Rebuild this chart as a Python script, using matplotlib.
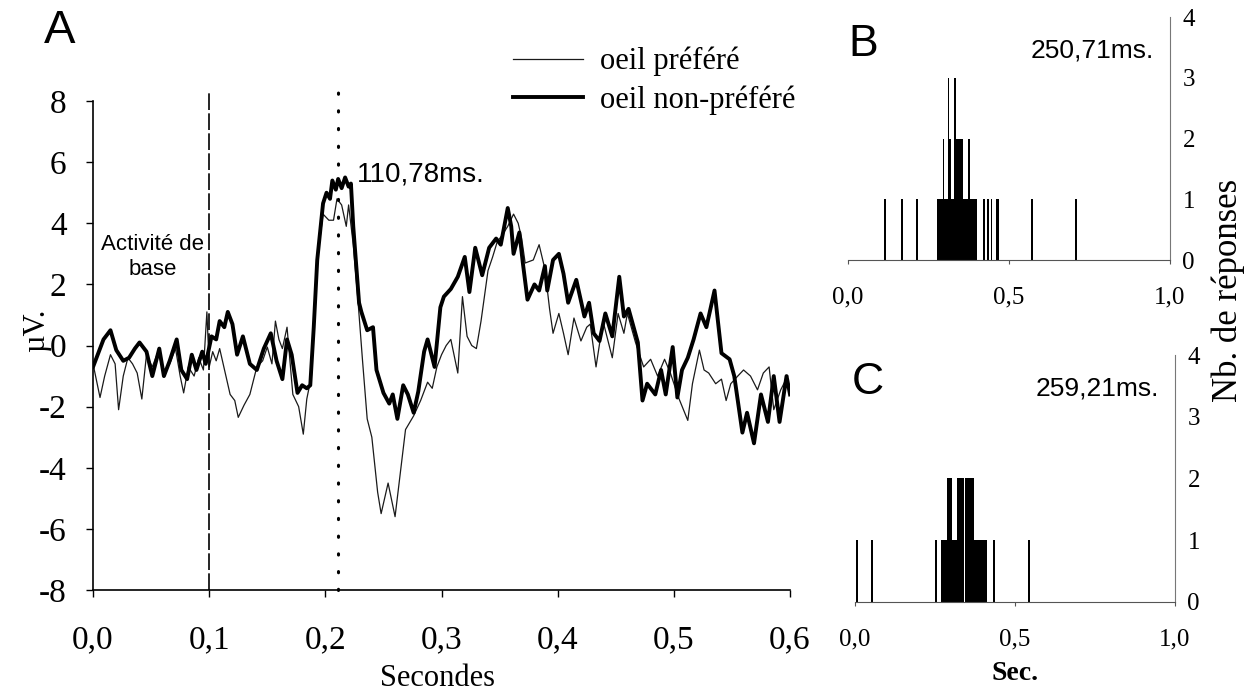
import matplotlib
matplotlib.use("Agg")
import matplotlib.pyplot as plt
from matplotlib.ticker import FuncFormatter

plt.rcParams['axes.unicode_minus'] = False
SERIF = ['Liberation Serif', 'DejaVu Serif']
SANS = ['Liberation Sans', 'DejaVu Sans']

# --- panel A : potentials (seconds, microvolts) ---
t_nonpref = [0.000, 0.004, 0.009, 0.015, 0.020, 0.026, 0.031, 0.036, 0.040, 0.046,
             0.051, 0.057, 0.061, 0.066, 0.072, 0.076, 0.081, 0.085, 0.089, 0.094,
             0.097, 0.102, 0.106, 0.109, 0.113, 0.116, 0.120, 0.124, 0.129, 0.135,
             0.141, 0.147, 0.153, 0.158, 0.163, 0.167, 0.171, 0.176, 0.180, 0.184,
             0.187, 0.190, 0.193, 0.198, 0.201, 0.204, 0.206, 0.209, 0.211, 0.214,
             0.217, 0.220, 0.222, 0.224, 0.229, 0.231, 0.236, 0.241, 0.244, 0.250,
             0.255, 0.258, 0.262, 0.267, 0.271, 0.276, 0.280, 0.285, 0.288, 0.294,
             0.299, 0.302, 0.308, 0.314, 0.320, 0.324, 0.329, 0.335, 0.341, 0.347,
             0.351, 0.357, 0.360, 0.362, 0.367, 0.370, 0.374, 0.380, 0.384, 0.389,
             0.391, 0.396, 0.401, 0.405, 0.409, 0.416, 0.423, 0.427, 0.431, 0.436,
             0.441, 0.447, 0.453, 0.457, 0.461, 0.469, 0.473, 0.477, 0.484, 0.489,
             0.493, 0.499, 0.503, 0.507, 0.512, 0.517, 0.523, 0.528, 0.535, 0.541,
             0.548, 0.552, 0.559, 0.563, 0.569, 0.575, 0.581, 0.586, 0.591, 0.597,
             0.600]
v_nonpref = [-0.7, -0.3, 0.2, 0.5, -0.15, -0.5, -0.4, -0.1, 0.1, -0.2,
             -1.0, -0.1, -1.0, -0.5, 0.2, -0.8, -1.1, -0.3, -0.8, -0.2,
             -0.6, 0.3, 0.2, 0.8, 0.6, 1.1, 0.7, -0.3, 0.3, -0.6,
             -0.8, -0.1, 0.4, -0.5, -1.1, 0.2, -0.3, -1.55, -1.3, -1.4,
             -1.3, 0.6, 2.8, 4.65, 5.0, 4.8, 5.4, 5.1, 5.45, 5.15,
             5.5, 5.2, 5.3, 3.9, 1.4, 1.1, 0.5, 0.6, -0.8, -1.55,
             -1.9, -1.6, -2.4, -1.3, -1.6, -2.2, -1.5, -0.2, 0.2, -0.7,
             1.25, 1.6, 1.85, 2.25, 2.9, 1.75, 3.2, 2.3, 3.2, 3.5,
             3.3, 4.5, 3.9, 3.0, 3.7, 2.7, 1.5, 2.0, 1.8, 2.6,
             1.8, 2.8, 3.0, 2.35, 1.4, 2.15, 0.95, 1.4, 0.4, 0.15,
             1.05, 0.3, 2.25, 0.95, 1.2, 0.1, -1.8, -1.25, -1.6, -0.8,
             -1.6, -0.05, -1.7, -0.8, -0.4, 0.2, 1.05, 0.6, 1.8, -0.25,
             -0.45, -1.0, -2.85, -2.2, -3.2, -1.6, -2.5, -1.0, -2.5, -1.0,
             -1.6]

t_pref = [0.000, 0.006, 0.010, 0.015, 0.019, 0.022, 0.026, 0.030, 0.034, 0.038,
          0.042, 0.046, 0.051, 0.056, 0.061, 0.066, 0.071, 0.075, 0.078, 0.082,
          0.087, 0.091, 0.095, 0.098, 0.100, 0.103, 0.106, 0.109, 0.112, 0.118,
          0.122, 0.125, 0.130, 0.135, 0.141, 0.146, 0.150, 0.154, 0.157, 0.160,
          0.163, 0.167, 0.172, 0.177, 0.181, 0.184, 0.188, 0.193, 0.198, 0.203,
          0.207, 0.210, 0.214, 0.218, 0.220, 0.224, 0.228, 0.232, 0.236, 0.240,
          0.245, 0.248, 0.254, 0.260, 0.265, 0.269, 0.276, 0.282, 0.288, 0.292,
          0.296, 0.300, 0.304, 0.308, 0.314, 0.318, 0.322, 0.326, 0.330, 0.334,
          0.340, 0.344, 0.348, 0.352, 0.357, 0.362, 0.366, 0.369, 0.372, 0.379,
          0.384, 0.389, 0.393, 0.396, 0.401, 0.405, 0.409, 0.414, 0.420, 0.425,
          0.428, 0.433, 0.439, 0.447, 0.452, 0.457, 0.460, 0.467, 0.474, 0.480,
          0.486, 0.492, 0.497, 0.504, 0.512, 0.516, 0.522, 0.526, 0.530, 0.536,
          0.541, 0.545, 0.549, 0.555, 0.560, 0.566, 0.572, 0.577, 0.582, 0.586,
          0.592, 0.598]
v_pref = [-0.6, -1.7, -1.0, -0.3, -0.6, -2.1, -1.0, -0.4, -0.6, -0.9,
          -1.75, -0.3, -0.7, -0.2, -0.9, -0.6, -0.1, -1.0, -1.55, -0.7,
          -1.0, -0.4, -0.8, 1.1, -0.7, -0.2, -0.5, -0.1, -0.6, -1.6,
          -1.8, -2.35, -1.95, -1.6, -0.7, -0.5, -0.05, -0.6, 0.8, 0.2,
          -0.1, 0.6, -1.6, -2.0, -2.9, -1.75, -1.0, 2.8, 4.3, 4.1,
          4.1, 4.8, 4.6, 3.9, 4.6, 3.3, 1.5, -0.5, -2.4, -3.0,
          -4.8, -5.5, -4.5, -5.6, -4.0, -2.75, -2.3, -1.8, -1.2, -1.4,
          -0.7, -0.3, 0.0, 0.2, -0.9, 1.6, 0.3, 0.0, -0.1, 0.8,
          2.45, 2.9, 3.4, 3.6, 3.9, 4.3, 4.0, 3.5, 2.7, 2.8,
          3.3, 2.5, 1.2, 0.4, 1.05, 0.4, -0.3, 0.9, 0.15, 0.6,
          0.7, -0.7, 0.8, -0.4, 1.05, 0.4, 1.05, 0.1, -0.7, -0.45,
          -1.0, -0.45, -0.9, -1.7, -2.45, -1.25, -0.15, -0.8, -0.9, -1.25,
          -1.1, -1.8, -1.25, -1.0, -0.8, -1.0, -1.45, -0.9, -0.7, -2.1,
          -1.45, -1.0]

baseline_end = 0.1
latency_a = 110.78  # ms after baseline end

# --- panels B and C : response counts per bin (seconds) ---
b_times = [0.115, 0.169, 0.214, 0.278, 0.282, 0.286, 0.290, 0.294, 0.297, 0.301,
           0.305, 0.309, 0.3125, 0.315, 0.318, 0.321, 0.326, 0.329, 0.333, 0.338,
           0.342, 0.346, 0.350, 0.354, 0.358, 0.362, 0.366, 0.370, 0.375, 0.379,
           0.383, 0.387, 0.391, 0.395, 0.399, 0.422, 0.434, 0.446, 0.461, 0.465,
           0.572, 0.709]
b_counts = [1, 1, 1, 1, 1, 1, 1, 1, 2, 1,
            1, 1, 3, 1, 2, 1, 1, 1, 3, 2,
            2, 2, 2, 2, 1, 1, 1, 1, 2, 1,
            1, 1, 1, 1, 1, 1, 1, 1, 1, 1,
            1, 1]
latency_b = "250,71ms."

c_times = [0.006, 0.054, 0.253, 0.270, 0.275, 0.280, 0.284, 0.290, 0.295, 0.300,
           0.306, 0.310, 0.314, 0.318, 0.322, 0.327, 0.332, 0.337, 0.345, 0.350,
           0.355, 0.360, 0.365, 0.370, 0.375, 0.380, 0.385, 0.390, 0.396, 0.402,
           0.409, 0.435, 0.544]
c_counts = [1, 1, 1, 1, 1, 1, 1, 2, 2, 2,
            1, 1, 1, 1, 2, 2, 2, 2, 2, 2,
            2, 2, 2, 2, 1, 1, 1, 1, 1, 1,
            1, 1, 1]
latency_c = "259,21ms."


def comma(x, pos):
    return ("%.1f" % x).replace('.', ',')


fig = plt.figure(figsize=(12.54, 6.93), dpi=100)

# panel A
ax = fig.add_axes([0.0742, 0.1486, 0.5558, 0.7056])
ax.plot(t_pref, v_pref, color='#1a1a1a', lw=0.9, label='oeil préféré')
ax.plot(t_nonpref, v_nonpref, color='black', lw=2.8, label='oeil non-préféré')
ax.plot([baseline_end, baseline_end], [-8, 8.3], color='black', lw=1.2,
        linestyle=(0, (10, 2)), clip_on=False)
t_peak = baseline_end + latency_a / 1000.0
ax.plot([t_peak, t_peak], [-8, 8.3], color='black', lw=2.2,
        linestyle=(0, (0.4, 5.4)), dash_capstyle='round', clip_on=False)
ax.set_xlim(0, 0.6)
ax.set_ylim(-8, 8)
ax.set_xticks([0.0, 0.1, 0.2, 0.3, 0.4, 0.5, 0.6])
ax.set_yticks([-8, -6, -4, -2, 0, 2, 4, 6, 8])
ax.xaxis.set_major_formatter(FuncFormatter(comma))
for s in ['top', 'right']:
    ax.spines[s].set_visible(False)
for s in ['left', 'bottom']:
    ax.spines[s].set_linewidth(1.2)
ax.tick_params(axis='x', direction='out', length=5, width=1, pad=20, labelsize=24)
ax.tick_params(axis='y', direction='out', length=5, width=1, pad=14, labelsize=24)
for lab in ax.get_xticklabels() + ax.get_yticklabels():
    lab.set_family(SERIF)
ax.text(0.051, 2.9, 'Activité de\nbase', family=SANS, fontsize=16, ha='center',
        va='center', multialignment='center', linespacing=1.3)
ax.text(t_peak + 0.016, 5.6, ('%.2f' % latency_a).replace('.', ',') + 'ms.',
        family=SANS, fontsize=20, ha='left', va='center')
leg = ax.legend(loc='upper left', bbox_to_anchor=(513 / 1254, 1 - 47 / 693),
                bbox_transform=fig.transFigure, frameon=False, borderpad=0,
                borderaxespad=0, handlelength=2.3, handletextpad=0.55,
                labelspacing=0.28, prop={'family': SERIF, 'size': 22})

fig.text(60 / 1254, 1 - 31 / 693, 'A', family=SANS, fontsize=34, ha='center', va='center')
fig.text(37 / 1254, 1 - 330 / 693, 'µV.', family=SERIF, fontsize=22, rotation=90,
         ha='center', va='center')
fig.text(438 / 1254, 1 - 678 / 693, 'Secondes', family=SERIF, fontsize=22,
         ha='center', va='center')


def spike_panel(rect, times, counts, letter, latency, letter_x):
    axh = fig.add_axes(rect)
    axh.bar(times, counts, width=0.0055, color='black', linewidth=0)
    axh.set_xlim(0, 1)
    axh.set_ylim(0, 4)
    axh.set_xticks([0.0, 0.5, 1.0])
    axh.set_yticks([0, 1, 2, 3, 4])
    axh.xaxis.set_major_formatter(FuncFormatter(comma))
    axh.yaxis.tick_right()
    for s in ['top', 'left']:
        axh.spines[s].set_visible(False)
    axh.spines['right'].set_color('#777777')
    axh.spines['bottom'].set_color('#555555')
    axh.tick_params(axis='x', direction='out', length=3, width=0.8, color='#555555',
                    pad=16, labelsize=18)
    axh.tick_params(axis='y', length=0, pad=9, labelsize=18)
    for lab in axh.get_xticklabels() + axh.get_yticklabels():
        lab.set_family(SERIF)
    axh.text(letter_x, 3.55, letter, family=SANS, fontsize=32, ha='left', va='center')
    axh.text(0.95, 3.45, latency, family=SANS, fontsize=19, ha='right', va='center')
    return axh


spike_panel([0.6762, 0.6248, 0.2568, 0.3506], b_times, b_counts, 'B', latency_b, 0.0)
spike_panel([0.6818, 0.1317, 0.2552, 0.3560], c_times, c_counts, 'C', latency_c, -0.01)

fig.text(1228 / 1254, 1 - 290 / 693, 'Nb. de réponses', family=SERIF, fontsize=25,
         rotation=90, ha='center', va='center')
fig.text(1015 / 1254, 1 - 674 / 693, 'Sec.', family=SERIF, fontsize=20,
         fontweight='bold', ha='center', va='center')

fig.savefig('out.png', dpi=100)
